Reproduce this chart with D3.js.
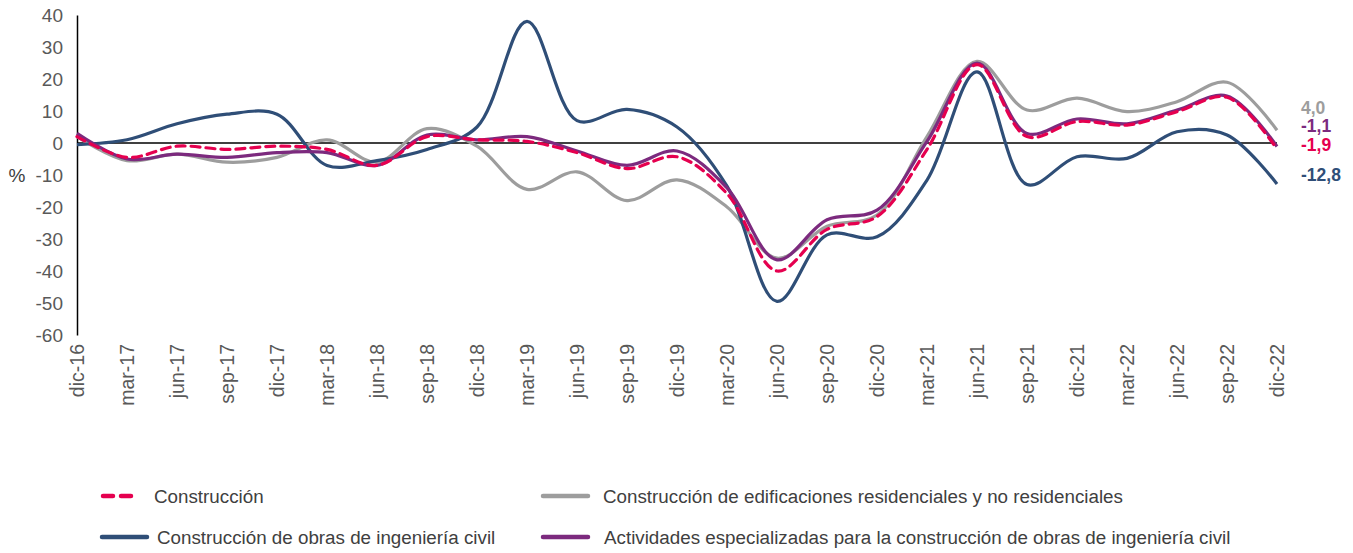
<!DOCTYPE html>
<html>
<head>
<meta charset="utf-8">
<script src="https://cdn.jsdelivr.net/npm/d3@7"></script>
<style>
  body { margin: 0; background: #fff; }
  text { font-family: "Liberation Sans", Arial, sans-serif; }
</style>
</head>
<body>
<div id="chart"></div>
<script>
// trimestres
const periods = ["dic-16","mar-17","jun-17","sep-17","dic-17","mar-18","jun-18","sep-18","dic-18",
  "mar-19","jun-19","sep-19","dic-19","mar-20","jun-20","sep-20","dic-20","mar-21","jun-21",
  "sep-21","dic-21","mar-22","jun-22","sep-22","dic-22"];

const construccion = [2,-4.5,-1,-2,-1,-2,-7,2,1,0.5,-3,-8,-4.3,-15.8,-40,-27,-23,-2,24.5,2,6.7,5.6,9.8,14.3,-1.9];
const edificaciones = [2,-5.5,-3.5,-6,-4.5,1,-6,4.5,-1,-14.5,-9,-18,-11.5,-20,-36,-26,-22.5,2,25.5,10.3,14,9.8,12.9,19,4.0];
const ingenieria = [-0.5,1,6,9,9,-7,-5.5,-2,5,38,7,10.5,5,-13.5,-49.5,-28.7,-29.3,-11.6,22.2,-13,-4.3,-4.8,3.5,2.5,-12.8];
const especializadas = [3,-5,-3.5,-4.5,-3,-3,-7,2.5,1,2,-2.5,-7,-2.5,-14,-36.5,-24,-21,0.5,25,3,7.5,6,10.3,14.7,-1.1];

const yTicks = [40,30,20,10,0,-10,-20,-30,-40,-50,-60];

const series = [
  {name:"Construcción", values:construccion, color:"#e5004f", dash:"9,6", label:"-1,9", ldy:-4},
  {name:"Construcción de edificaciones residenciales y no residenciales", values:edificaciones, color:"#9d9d9d", dash:null, label:"4,0", ldy:-22},
  {name:"Construcción de obras de ingeniería civil", values:ingenieria, color:"#2f4e77", dash:null, label:"-12,8", ldy:-9},
  {name:"Actividades especializadas para la construcción de obras de ingeniería civil", values:especializadas, color:"#7c2a7e", dash:null, label:"-1,1", ldy:-21}
];

const width = 1353, height = 553;
const svg = d3.select("#chart").append("svg").attr("width", width).attr("height", height);

const x = d3.scalePoint().domain(periods).range([77, 1277]);
const y = d3.scaleLinear().domain([-60, 40]).range([335, 15]);

// eje y
const yAxis = svg.append("g").attr("transform", "translate(77,0)")
  .call(d3.axisLeft(y).tickValues(yTicks).tickSize(0).tickPadding(14).tickFormat(d3.format("d")));
yAxis.select(".domain").attr("stroke", "#000").attr("stroke-width", 1.5);
yAxis.selectAll("text").attr("fill", "#595959").style("font-size", "19px")
  .text(d => d < 0 ? "-" + Math.abs(d) : d);

svg.append("text").attr("x", 17).attr("y", y(-10)).attr("dy", "0.35em")
  .attr("text-anchor", "middle").attr("fill", "#404040").style("font-size", "19px").text("%");

// linea del cero
svg.append("line").attr("x1", 77).attr("x2", 1277).attr("y1", y(0)).attr("y2", y(0))
  .attr("stroke", "#000").attr("stroke-width", 1.5);

// etiquetas del eje x
svg.append("g").selectAll("text").data(periods).join("text")
  .attr("transform", d => `translate(${x(d)},344) rotate(-90)`)
  .attr("dy", "0.35em")
  .attr("text-anchor", "end")
  .attr("fill", "#595959")
  .style("font-size", "19.5px")
  .text(d => d);

const line = d3.line()
  .x((d, i) => x(periods[i]))
  .y(d => y(d))
  .curve(d3.curveCatmullRom.alpha(0.5));

const order = [1, 2, 3, 0];
order.forEach(k => {
  const s = series[k];
  svg.append("path").datum(s.values)
    .attr("d", line)
    .attr("fill", "none")
    .attr("stroke", s.color)
    .attr("stroke-width", 3.2)
    .attr("stroke-dasharray", s.dash)
    .attr("stroke-linecap", s.dash ? "round" : "butt");
});

// etiquetas finales
series.forEach(s => {
  const last = s.values[s.values.length - 1];
  svg.append("text")
    .attr("x", x(periods[periods.length - 1]) + 24)
    .attr("y", y(last) + s.ldy)
    .attr("dy", "0.35em")
    .attr("fill", s.color)
    .style("font-size", "17.5px")
    .style("font-weight", "bold")
    .text(s.label);
});

// leyenda
const legendPos = [[100, 496], [541, 496], [100, 537], [541, 537]];
const textX = [54, 62, 57, 63];
series.forEach((s, i) => {
  const [lx, ly] = legendPos[i];
  const g = svg.append("g").attr("transform", `translate(${lx},${ly})`);
  g.append("line").attr("x1", s.dash ? 3 : 2).attr("x2", s.dash ? 37 : 47).attr("y1", 0).attr("y2", 0)
    .attr("stroke", s.color).attr("stroke-width", 4.5)
    .attr("stroke-dasharray", s.dash ? "10,8" : null)
    .attr("stroke-linecap", "round");
  g.append("text").attr("x", textX[i]).attr("dy", "0.35em")
    .attr("fill", "#404040").style("font-size", "18.8px").text(s.name);
});
</script>
</body>
</html>
